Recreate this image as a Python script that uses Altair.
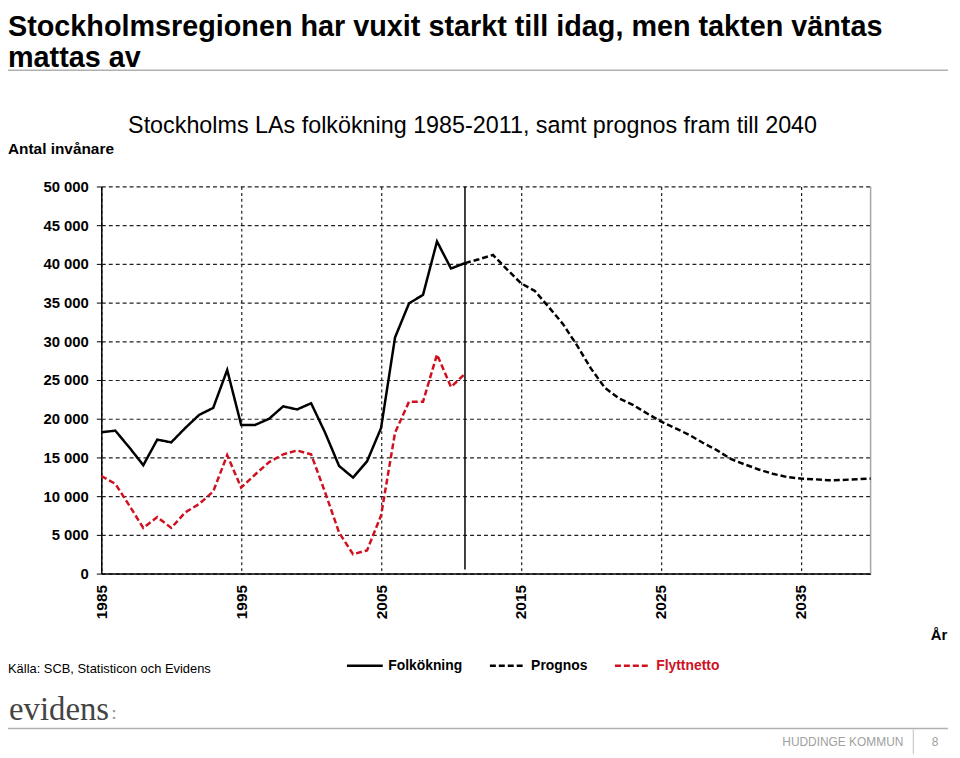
import altair as alt
import pandas as pd

# ---------------- data ----------------
years_hist = list(range(1985, 2012))
folkokning = [18250, 18460, 16300, 14000, 17300, 16950, 18800, 20500, 21400, 26300,
              19200, 19200, 20000, 21600, 21200, 22000, 18200, 13900, 12400, 14500,
              18800, 30500, 34900, 36000, 42900, 39400, 40100]
flyttnetto = [12600, 11600, 8800, 5900, 7300, 5900, 7900, 9000, 10600, 15300,
              11100, 12800, 14400, 15400, 15900, 15400, 10500, 5300, 2500, 3000,
              7500, 18200, 22200, 22200, 28300, 24100, 25800]
years_prog = list(range(2011, 2041))
prognos = [40100, 40600, 41150, 39300, 37500, 36500, 34400, 32250, 29500, 26500,
           24000, 22650, 21800, 20700, 19650, 18800, 17950, 16900, 15950, 14800,
           14100, 13450, 12900, 12480, 12270, 12180, 12050, 12100, 12180, 12270]
series_names = ["Folkökning", "Prognos", "Flyttnetto"]
series_colors = ["#000000", "#000000", "#d0101e"]
x_tick_years = [1985, 1995, 2005, 2015, 2025, 2035]
y_ticks = list(range(0, 50001, 5000))

title_lines = ["Stockholmsregionen har vuxit starkt till idag, men takten väntas", "mattas av"]
subtitle = "Stockholms LAs folkökning 1985-2011, samt prognos fram till 2040"
y_label = "Antal invånare"
x_label = "År"
source = "Källa: SCB, Statisticon och Evidens"

rows = []
for y, v in zip(years_hist, folkokning):
    rows.append({"year": y, "value": v, "series": "Folkökning"})
for y, v in zip(years_prog, prognos):
    rows.append({"year": y, "value": v, "series": "Prognos"})
for y, v in zip(years_hist, flyttnetto):
    rows.append({"year": y, "value": v, "series": "Flyttnetto"})
df = pd.DataFrame(rows)

FONT = "Liberation Sans, Arial, sans-serif"
NARROW = "Liberation Sans Narrow, Arial Narrow, Liberation Sans, sans-serif"

W, H = 775, 390

xs = alt.Scale(domain=[1985, 2040], nice=False, zero=False)
ys = alt.Scale(domain=[0, 50000], nice=False)

x_axis = alt.Axis(values=x_tick_years, labelAngle=270, labelFont=FONT, labelFontSize=15.5,
                  labelFontWeight="bold", labelColor="black", labelPadding=11,
                  ticks=False, domainColor="black", domainWidth=1.5, grid=True,
                  gridDash=[3, 3], gridColor="#222222", gridWidth=1.2, title=None,
                  format="d", labelFlush=False, labelOverlap=False)
y_axis = alt.Axis(values=y_ticks, labelExpr="datum.value >= 1000 ? floor(datum.value/1000) + ' 000' : '0'",
                  labelFont=FONT, labelFontSize=15, labelFontWeight="bold", labelColor="black",
                  labelPadding=8, tickSize=5, tickColor="black", tickWidth=1,
                  domainColor="black", domainWidth=1.5, grid=True, gridDash=[4, 3],
                  gridColor="#222222", gridWidth=1.2, title=None, labelFlush=False)

xenc = alt.X("year:Q", scale=xs, axis=x_axis)

label_color = alt.ExprRef(expr="datum.label == 'Flyttnetto' ? '#d0101e' : 'black'")
leg = dict(title=None, orient="none", legendX=246, legendY=463, direction="horizontal",
           labelColor=label_color)

lines = alt.Chart(df).mark_line(strokeWidth=2.5).encode(
    x=xenc,
    y=alt.Y("value:Q", scale=ys, axis=y_axis),
    color=alt.Color("series:N", scale=alt.Scale(domain=series_names, range=series_colors),
                    legend=alt.Legend(**leg)),
    strokeDash=alt.StrokeDash("series:N", scale=alt.Scale(domain=series_names,
                                                          range=[[1, 0], [6, 3], [6, 3]]),
                              legend=alt.Legend(**leg)),
    order="year:Q",
)

split_rule = alt.Chart(pd.DataFrame({"year": [2011]})).mark_rule(color="black", strokeWidth=1.5).encode(
    x=xenc, y=alt.value(0), y2=alt.value(386))
right_border = alt.Chart(pd.DataFrame({"year": [2040]})).mark_rule(color="#a6a6a6", strokeWidth=1.5).encode(
    x=xenc, y=alt.value(0), y2=alt.value(H))


def txt(s, x, y, size, weight="normal", color="black", font=FONT, align="left", baseline="middle"):
    return alt.Chart(pd.DataFrame({"t": [s]})).mark_text(
        align=align, baseline=baseline, fontSize=size, fontWeight=weight, color=color, font=font
    ).encode(x=alt.value(x), y=alt.value(y), text="t:N")


def hrule(x1, x2, y, color, width):
    return alt.Chart(pd.DataFrame({"a": [0]})).mark_rule(color=color, strokeWidth=width).encode(
        x=alt.value(x1), x2=alt.value(x2), y=alt.value(y))


def vrule(x, y1, y2, color, width):
    return alt.Chart(pd.DataFrame({"a": [0]})).mark_rule(color=color, strokeWidth=width).encode(
        x=alt.value(x), y=alt.value(y1), y2=alt.value(y2))


texts = [
    txt(title_lines[0], -94, -152, 29, "bold", font=NARROW, baseline="alphabetic"),
    txt(title_lines[1], -94, -120, 29, "bold", font=NARROW, baseline="alphabetic"),
    hrule(-102, 853, -117, "#b0b0b0", 1.5),
    txt(subtitle, 374, -54, 23.5, baseline="alphabetic", align="center"),
    txt(y_label, -94, -38, 15.5, "bold"),
    txt(x_label, 844, 452, 15, "bold", align="center"),
    txt(source, -94, 486, 13),
    txt("evidens", -93, 527, 33, color="#444444", font="Liberation Serif, serif"),
    txt(":", 10, 530, 20, color="#999999", font="Liberation Serif, serif"),
    hrule(-102, 853, 546, "#b0b0b0", 1.5),
    txt("HUDDINGE KOMMUN", 808, 560, 12, color="#a0a0a0", align="right"),
    vrule(818, 547, 572, "#c0c0c0", 1),
    txt("8", 840, 560, 12, color="#a0a0a0", align="center"),
]

chart = alt.layer(split_rule, right_border, lines, *texts).properties(
    width=W, height=H,
    autosize=alt.AutoSizeParams(type="none"),
    padding={"left": 94, "top": 177, "right": 82, "bottom": 183},
).configure_view(stroke=None).configure_legend(
    symbolType="stroke", symbolSize=1300, symbolStrokeWidth=2.5, labelFont=FONT,
    labelFontSize=14, labelFontWeight="bold", labelOffset=4, columnPadding=22
)

chart.save("out.html", embed_options={"renderer": "svg", "actions": False})
